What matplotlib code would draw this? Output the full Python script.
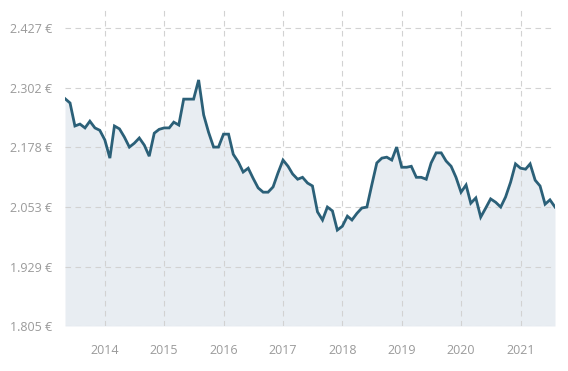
import matplotlib
matplotlib.use("Agg")
import matplotlib.pyplot as plt
import matplotlib.dates as mdates
import pandas as pd
import numpy as np

start_month = "2013-05-01"
prices = [
    # 2013 (May-Dec)
    2.279, 2.270, 2.222, 2.226, 2.218, 2.232, 2.218, 2.213,
    # 2014
    2.193, 2.155, 2.222, 2.216, 2.199, 2.178, 2.186, 2.197, 2.182, 2.159, 2.207, 2.215,
    # 2015
    2.218, 2.218, 2.230, 2.224, 2.278, 2.278, 2.278, 2.318, 2.245, 2.209, 2.178, 2.178,
    # 2016
    2.205, 2.205, 2.163, 2.147, 2.126, 2.134, 2.113, 2.093, 2.084, 2.084, 2.095, 2.124,
    # 2017
    2.151, 2.138, 2.122, 2.111, 2.115, 2.103, 2.097, 2.043, 2.026, 2.053, 2.045, 2.005,
    # 2018
    2.013, 2.034, 2.026, 2.040, 2.051, 2.053, 2.099, 2.145, 2.155, 2.157, 2.151, 2.178,
    # 2019
    2.136, 2.136, 2.138, 2.115, 2.115, 2.111, 2.145, 2.166, 2.166, 2.149, 2.138, 2.115,
    # 2020
    2.084, 2.099, 2.061, 2.072, 2.032, 2.051, 2.070, 2.063, 2.053, 2.074, 2.105, 2.143,
    # 2021 (Jan-Aug)
    2.134, 2.132, 2.143, 2.109, 2.097, 2.059, 2.068, 2.053,
]
y_ticks = [1.805, 1.929, 2.053, 2.178, 2.302, 2.427]
y_tick_labels = ["1.805 €", "1.929 €", "2.053 €", "2.178 €", "2.302 €", "2.427 €"]
x_years = [2014, 2015, 2016, 2017, 2018, 2019, 2020, 2021]

dates = pd.date_range(start_month, periods=len(prices), freq="MS")
x = mdates.date2num(dates.to_pydatetime())

plt.rcParams['font.family'] = ['Open Sans', 'DejaVu Sans']

fig = plt.figure(figsize=(5.68, 3.71), dpi=100)
ax = fig.add_axes([65/568, (371-326)/371, (555-65)/568, (326-8)/371])

line_color = "#2b6078"
fill_color = "#e8edf2"
ymin, ymax = 1.805, 2.468

ax.fill_between(x, prices, ymin, color=fill_color, lw=0, zorder=1)
ax.plot(x, prices, color=line_color, lw=2.0, zorder=3, solid_joinstyle="miter")

ax.set_xlim(x[0], x[-1])
ax.set_ylim(ymin, ymax)

xt = mdates.date2num([pd.Timestamp(f"{yr}-01-01").to_pydatetime() for yr in x_years])
ax.set_xticks(xt)
ax.set_xticklabels([str(yr) for yr in x_years])
ax.set_yticks(y_ticks)
ax.set_yticklabels(y_tick_labels)

grid_kw = dict(color="#d2d2d2", lw=0.8, dashes=(5, 4))
ax.grid(True, axis="both", zorder=2, **grid_kw)
ax.set_axisbelow(False)
for l in ax.get_xgridlines() + ax.get_ygridlines():
    l.set_zorder(2)

for s in ax.spines.values():
    s.set_visible(False)
ax.tick_params(axis="both", length=0, labelcolor="#9a9a9a", labelsize=9)
ax.tick_params(axis="x", pad=13)
ax.tick_params(axis="y", pad=9)

fig.savefig("out.png", dpi=100)
